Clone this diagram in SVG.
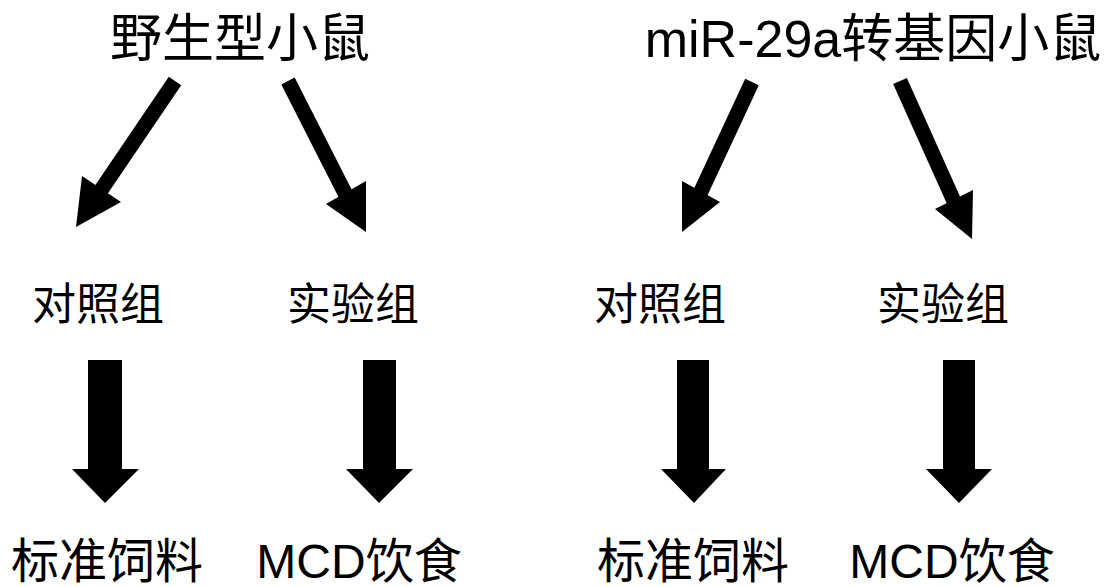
<svg xmlns="http://www.w3.org/2000/svg" width="1120" height="587" viewBox="0 0 1120 587">
<style>
.t{font-family:"Liberation Sans","Noto Sans CJK SC",sans-serif;fill:#000;text-anchor:middle}
.title{font-size:52px}
.mid{font-size:44px}
.bot{font-size:48px}
.shaft{stroke:#000;stroke-width:15;fill:none}
.head{fill:#000}
</style>
<rect width="1120" height="587" fill="#fff"/>
<g id="wt"><text class="t title" x="240" y="57">野生型小鼠</text></g>
<g id="tg"><text class="t title" x="873" y="57">miR-29a转基因小鼠</text></g>
<g id="wt-ctrl"><text class="t mid" x="98" y="320">对照组</text></g>
<g id="wt-exp"><text class="t mid" x="353" y="320">实验组</text></g>
<g id="tg-ctrl"><text class="t mid" x="660" y="320">对照组</text></g>
<g id="tg-exp"><text class="t mid" x="943" y="320">实验组</text></g>
<g id="wt-std"><text class="t bot" x="107" y="578">标准饲料</text></g>
<g id="wt-mcd"><text class="t bot" x="359" y="578">MCD饮食</text></g>
<g id="tg-std"><text class="t bot" x="693" y="578">标准饲料</text></g>
<g id="tg-mcd"><text class="t bot" x="952" y="578">MCD饮食</text></g>
<g id="connectors">
<line class="shaft" x1="175" y1="81" x2="97" y2="196"/>
<polygon class="head" points="76,227 82,176 121,202"/>
<line class="shaft" x1="288" y1="81" x2="349" y2="201"/>
<polygon class="head" points="366,232 326,204 366,181"/>
<line class="shaft" x1="752" y1="82" x2="697" y2="200"/>
<polygon class="head" points="682,232 682,181 720,202"/>
<line class="shaft" x1="900" y1="81" x2="957" y2="208"/>
<polygon class="head" points="972,239 935,209 973,190"/>
<polygon class="head" points="88,360 122,360 122,469 139,469 105,503 72,469 88,469"/>
<polygon class="head" points="363,360 396,360 396,469 413,469 379,503 346,469 363,469"/>
<polygon class="head" points="677,360 709,360 709,469 726,469 694,503 661,469 677,469"/>
<polygon class="head" points="943,360 975,360 975,469 992,469 959,503 926,469 943,469"/>
</g>
</svg>
